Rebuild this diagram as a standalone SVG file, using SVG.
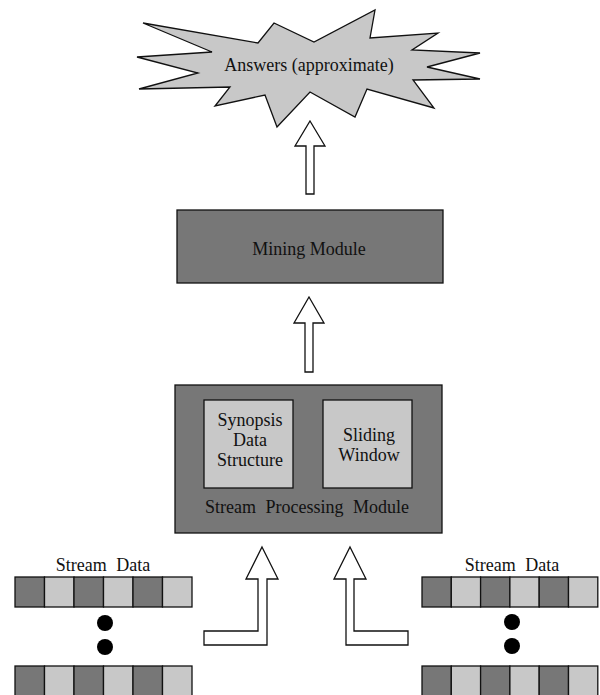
<svg xmlns="http://www.w3.org/2000/svg" width="600" height="695" viewBox="0 0 600 695">
<style>
text{font-family:"Liberation Serif","Times New Roman",serif;font-size:18px;fill:#111;text-anchor:middle}
.dk{fill:#777777;stroke:#111;stroke-width:1.3}
.lt{fill:#c8c8c8;stroke:#111;stroke-width:1.3}
.arr{fill:#fff;stroke:#111;stroke-width:1.3;stroke-linejoin:miter}
.sp{word-spacing:5px}
</style>
<rect width="600" height="695" fill="#fff"/>
<g id="answers">
<polygon class="lt" points="143,23 258,43 274,23 314,42 375,10 370,38 438,33 412,50 480,53 427,67 480,79 413,80 434,108 367,89 355,117 310,92 277,127 265,95 215,106 230,87 139,89 198,73 137,57 212,52"/>
<text x="309" y="71">Answers (approximate)</text>
</g>
<g id="mining">
<rect class="dk" x="177" y="210" width="266" height="73"/>
<text x="309" y="255">Mining Module</text>
</g>
<g id="spm">
<rect class="dk" x="175" y="385" width="267" height="148"/>
<text class="sp" x="307" y="513">Stream Processing Module</text>
</g>
<g id="synopsis">
<rect class="lt" x="204" y="400" width="89" height="88"/>
<text x="250" y="426">Synopsis</text>
<text x="250" y="446">Data</text>
<text x="250" y="466">Structure</text>
</g>
<g id="sliding">
<rect class="lt" x="323" y="400" width="89" height="88"/>
<text x="369" y="441">Sliding</text>
<text x="369" y="461">Window</text>
</g>
<g id="stream-left">
<text class="sp" x="103" y="571">Stream Data</text>
<rect class="dk" x="15" y="577" width="29.5" height="30"/>
<rect class="lt" x="44.5" y="577" width="29.5" height="30"/>
<rect class="dk" x="74" y="577" width="29.5" height="30"/>
<rect class="lt" x="103.5" y="577" width="29.5" height="30"/>
<rect class="dk" x="133" y="577" width="29.5" height="30"/>
<rect class="lt" x="162.5" y="577" width="29.5" height="30"/>
<circle cx="105" cy="623" r="8" fill="#000"/>
<circle cx="105" cy="647" r="8" fill="#000"/>
<rect class="dk" x="15" y="666" width="29.5" height="40"/>
<rect class="lt" x="44.5" y="666" width="29.5" height="40"/>
<rect class="dk" x="74" y="666" width="29.5" height="40"/>
<rect class="lt" x="103.5" y="666" width="29.5" height="40"/>
<rect class="dk" x="133" y="666" width="29.5" height="40"/>
<rect class="lt" x="162.5" y="666" width="29.5" height="40"/>
</g>
<g id="stream-right">
<text class="sp" x="512" y="571">Stream Data</text>
<rect class="dk" x="422" y="577" width="29.3" height="30"/>
<rect class="lt" x="451.3" y="577" width="29.3" height="30"/>
<rect class="dk" x="480.6" y="577" width="29.3" height="30"/>
<rect class="lt" x="509.9" y="577" width="29.3" height="30"/>
<rect class="dk" x="539.2" y="577" width="29.3" height="30"/>
<rect class="lt" x="568.5" y="577" width="29.3" height="30"/>
<circle cx="512" cy="622" r="8" fill="#000"/>
<circle cx="512" cy="646" r="8" fill="#000"/>
<rect class="dk" x="422" y="666" width="29.3" height="40"/>
<rect class="lt" x="451.3" y="666" width="29.3" height="40"/>
<rect class="dk" x="480.6" y="666" width="29.3" height="40"/>
<rect class="lt" x="509.9" y="666" width="29.3" height="40"/>
<rect class="dk" x="539.2" y="666" width="29.3" height="40"/>
<rect class="lt" x="568.5" y="666" width="29.3" height="40"/>
</g>
<g id="connectors">
<polygon class="arr" points="310,121 325,146 314,146 314,194 306,194 306,146 295,146"/>
<polygon class="arr" points="309,297 324,323 313,323 313,372 305,372 305,323 294,323"/>
<polygon class="arr" points="262,547 278,579 267,579 267,645 204,645 204,631 258,631 258,579 246,579"/>
<polygon class="arr" points="350,547 366,579 354,579 354,631 408,631 408,645 346,645 346,579 334,579"/>
</g>
</svg>
